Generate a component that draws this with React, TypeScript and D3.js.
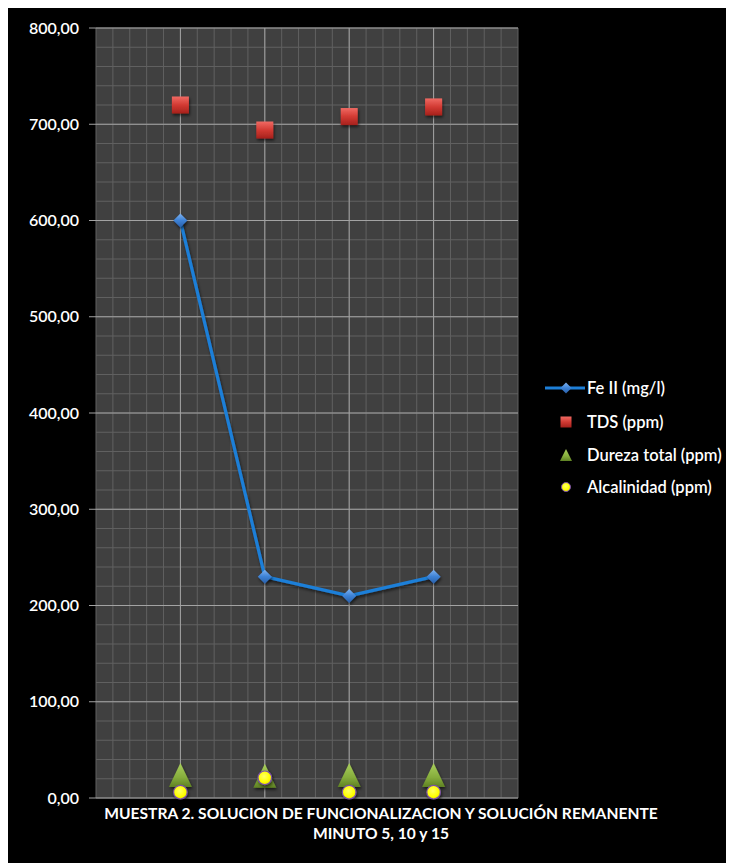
import React from "react";
import * as d3 from "d3";

// Sample positions along the x axis (minute groups)
const positions = [1, 2, 3, 4];
// Series values
const feII = [600, 230, 210, 230];
const tds = [720, 694, 708, 718];
const dureza = [24, 23, 24, 24];
const alcalinidad = [6, 21, 6, 6];
// Axis ticks
const yTicks = [0, 100, 200, 300, 400, 500, 600, 700, 800];
const legendLabels = ["Fe II (mg/l)", "TDS (ppm)", "Dureza total (ppm)", "Alcalinidad (ppm)"];
const titleLines = ["MUESTRA 2. SOLUCION DE FUNCIONALIZACION Y SOLUCIÓN REMANENTE", "MINUTO 5, 10 y 15"];

const W = 726;
const H = 855;
const FONT = "Lato, 'Open Sans', sans-serif";

export default function App() {
  const x = d3.scaleLinear().domain([0, 5]).range([96, 518]);
  const y = d3.scaleLinear().domain([0, 800]).range([798, 28]);
  const fmt = (v: number) => d3.format(".2f")(v).replace(".", ",");

  const minorX = d3.range(0, 5.0001, 0.2);
  const minorY = d3.range(0, 800.0001, 20);
  const line = d3
    .line<number>()
    .x((_, i) => x(positions[i]))
    .y((d) => y(d));

  const diamond = (cx: number, cy: number, r: number) =>
    `M${cx},${cy - r}L${cx + r},${cy}L${cx},${cy + r}L${cx - r},${cy}Z`;
  const tri = (cx: number, cy: number, w: number, h: number) =>
    `M${cx},${cy - h / 2}L${cx + w / 2},${cy + h / 2}L${cx - w / 2},${cy + h / 2}Z`;

  const legendX = 566;
  const legendY = [388, 422, 455, 487];

  return (
    <svg width={W} height={H} style={{ display: "block" }}>
      <defs>
        <linearGradient id="gRed" x1="0" y1="0" x2="0" y2="1">
          <stop offset="0" stopColor="#f06a63" />
          <stop offset="0.5" stopColor="#d23a33" />
          <stop offset="1" stopColor="#a5211c" />
        </linearGradient>
        <linearGradient id="gBlue" x1="0" y1="0" x2="0" y2="1">
          <stop offset="0" stopColor="#7fb2f0" />
          <stop offset="0.5" stopColor="#3d82d6" />
          <stop offset="1" stopColor="#2a5fa8" />
        </linearGradient>
        <linearGradient id="gGreen" x1="0" y1="0" x2="0" y2="1">
          <stop offset="0" stopColor="#a9cf5c" />
          <stop offset="0.6" stopColor="#86ad3c" />
          <stop offset="1" stopColor="#5f8224" />
        </linearGradient>
        <radialGradient id="gYellow" cx="0.45" cy="0.4" r="0.6">
          <stop offset="0" stopColor="#ffff66" />
          <stop offset="0.7" stopColor="#ffff00" />
          <stop offset="1" stopColor="#e6e600" />
        </radialGradient>
        <filter id="shadow" x="-50%" y="-50%" width="200%" height="200%">
          <feDropShadow dx="1" dy="2" stdDeviation="1.5" floodColor="#000" floodOpacity="0.6" />
        </filter>
      </defs>
      <g transform="translate(-8,-8)">
        <rect x={8} y={8} width={W} height={H} fill="#000" />
        {/* plot area */}
        <rect x={x(0)} y={y(800)} width={x(5) - x(0)} height={y(0) - y(800)} fill="#404040" />
        {minorX.map((v, i) => (
          <line key={"mx" + i} x1={x(v)} x2={x(v)} y1={y(0)} y2={y(800)} stroke="#606060" strokeWidth={1} />
        ))}
        {minorY.map((v, i) => (
          <line key={"my" + i} x1={x(0)} x2={x(5)} y1={y(v)} y2={y(v)} stroke="#606060" strokeWidth={1} />
        ))}
        {yTicks.map((v) => (
          <line key={"My" + v} x1={x(0)} x2={x(5)} y1={y(v)} y2={y(v)} stroke="#a3a3a3" strokeWidth={1} />
        ))}
        {positions.map((p) => (
          <line key={"Mx" + p} x1={x(p)} x2={x(p)} y1={y(0)} y2={y(800)} stroke="#a3a3a3" strokeWidth={1} />
        ))}
        {/* y axis ticks and labels */}
        {yTicks.map((v) => (
          <g key={"t" + v}>
            <line x1={x(0) - 7} x2={x(0)} y1={y(v)} y2={y(v)} stroke="#a3a3a3" strokeWidth={1} />
            <text x={79} y={y(v)} dy="0.35em" textAnchor="end" fill="#fff" fontFamily={FONT} fontWeight={600} fontSize={16}>
              {fmt(v)}
            </text>
          </g>
        ))}

        {/* Fe II line */}
        <path d={line(feII) ?? ""} fill="none" stroke="#1d7fd8" strokeWidth={3.2} filter="url(#shadow)" />
        {feII.map((v, i) => (
          <path key={"fe" + i} d={diamond(x(positions[i]), y(v), 7)} fill="url(#gBlue)" filter="url(#shadow)" />
        ))}
        {/* TDS squares */}
        {tds.map((v, i) => (
          <rect key={"tds" + i} x={x(positions[i]) - 8.5} y={y(v) - 8.5} width={17} height={17} fill="url(#gRed)" filter="url(#shadow)" />
        ))}
        {/* Dureza triangles */}
        {dureza.map((v, i) => (
          <path key={"du" + i} d={tri(x(positions[i]), y(v), 23, 24)} fill="url(#gGreen)" filter="url(#shadow)" />
        ))}
        {/* Alcalinidad circles */}
        {alcalinidad.map((v, i) => (
          <circle key={"al" + i} cx={x(positions[i])} cy={y(v)} r={6.8} fill="url(#gYellow)" stroke="#7a4fa8" strokeWidth={1.2} filter="url(#shadow)" />
        ))}

        {/* legend */}
        <line x1={legendX - 21} x2={legendX + 19} y1={legendY[0]} y2={legendY[0]} stroke="#1d7fd8" strokeWidth={3} />
        <path d={diamond(legendX, legendY[0], 5.5)} fill="url(#gBlue)" />
        <rect x={legendX - 5.5} y={legendY[1] - 5.5} width={11} height={11} fill="url(#gRed)" />
        <path d={tri(legendX, legendY[2], 12, 12)} fill="url(#gGreen)" />
        <circle cx={legendX} cy={legendY[3]} r={4.5} fill="url(#gYellow)" stroke="#7a4fa8" strokeWidth={1} />
        {legendLabels.map((l, i) => (
          <text key={l} x={587} y={legendY[i]} dy="0.35em" fill="#fff" fontFamily={FONT} fontWeight={600} fontSize={16.5}>
            {l}
          </text>
        ))}

        {/* title */}
        {titleLines.map((t, i) => (
          <text key={t} x={381} y={819 + i * 20} textAnchor="middle" fill="#fff" fontFamily={FONT} fontWeight="bold" fontSize={15.6}>
            {t}
          </text>
        ))}
      </g>
    </svg>
  );
}
